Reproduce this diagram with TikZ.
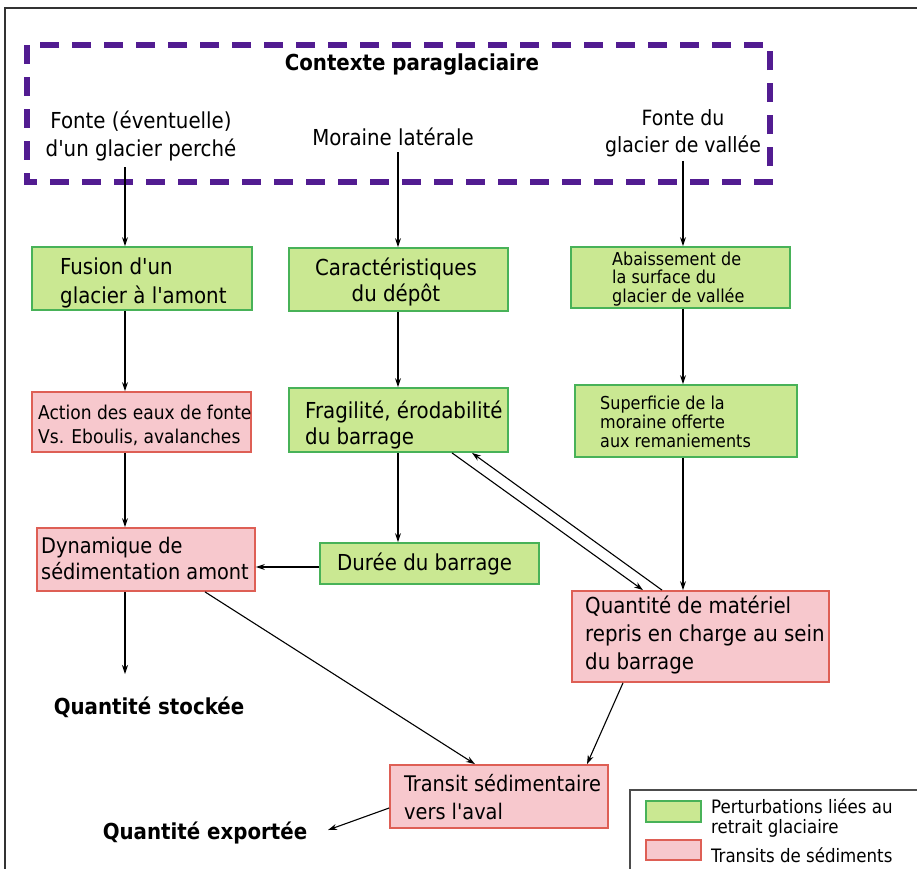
\documentclass[tikz,border=0pt]{standalone}
\usepackage{fontspec}
\setmainfont{DejaVu Sans Condensed}[Ligatures=TeXOff]
\usetikzlibrary{arrows.meta}
\definecolor{gfill}{RGB}{202,232,146}
\definecolor{gline}{RGB}{72,178,88}
\definecolor{rfill}{RGB}{247,200,205}
\definecolor{rline}{RGB}{222,95,85}
\definecolor{purp}{RGB}{82,28,145}
\begin{document}
\begin{tikzpicture}[x=1pt,y=-1pt,
 gbox/.style={draw=gline, fill=gfill, line width=1.8pt, inner sep=0},
 rbox/.style={draw=rline, fill=rfill, line width=1.8pt, inner sep=0},
 txt/.style={inner sep=0, align=left, anchor=west, font=\fontsize{22}{27}\selectfont},
 stxt/.style={inner sep=0, align=left, anchor=west, font=\fontsize{17.8}{18.8}\selectfont},
 btxt/.style={inner sep=0, font=\bfseries\fontsize{22}{26}\selectfont},
 arr/.style={-{Stealth[length=9pt,width=6pt]}, line width=1.1pt},
]
\useasboundingbox (0,0) rectangle (917,868);
\fill[white] (0,0) rectangle (917,868);
% outer frame
\draw[line width=1.5pt, black!80] (5,8) rectangle (940,890);
% dashed context box
\draw[purp, line width=6.5pt, dash pattern=on 19pt off 13pt] (27,45) rectangle (770,182);
\node[btxt] (ctx) at (412,65) {Contexte paraglaciaire};
\node[txt, anchor=center, align=center, font=\fontsize{22}{28}\selectfont] (fonte1) at (141,136) {Fonte (éventuelle)\\d'un glacier perché};
\node[txt, anchor=center] (moraine) at (393,137) {Moraine latérale};
\node[txt, anchor=center, align=center, font=\fontsize{21}{27}\selectfont] (fonte2) at (683,133) {Fonte du\\glacier de vallée};
% boxes
\node[gbox, minimum width=220, minimum height=63] (fusion) at (142,278.5) {};
\node[txt, font=\fontsize{22}{28.5}\selectfont] (tfusion) at (60,283) {Fusion d'un\\glacier à l'amont};
\node[gbox, minimum width=219, minimum height=63] (caract) at (398.5,279.5) {};
\node[txt, anchor=center, align=center, font=\fontsize{22}{26}\selectfont] (tcaract) at (396,282) {Caractéristiques\\du dépôt};
\node[gbox, minimum width=219, minimum height=61] (abaiss) at (680.5,277.5) {};
\node[stxt] (tabaiss) at (612,279) {Abaissement de\\la surface du\\glacier de vallée};
\node[rbox, minimum width=219, minimum height=60] (action) at (141.5,422) {};
\node[stxt, font=\fontsize{19}{24}\selectfont] (taction) at (38,425) {Action des eaux de fonte\\Vs. Eboulis, avalanches};
\node[gbox, minimum width=219, minimum height=64] (fragil) at (398.5,420) {};
\node[txt, font=\fontsize{22}{26}\selectfont] (tfragil) at (305,425) {Fragilité, érodabilité\\du barrage};
\node[gbox, minimum width=222, minimum height=72] (superf) at (686,421) {};
\node[stxt] (tsuperf) at (600,422) {Superficie de la\\moraine offerte\\aux remaniements};
\node[rbox, minimum width=218, minimum height=63] (dynam) at (146,559.5) {};
\node[txt, font=\fontsize{21.5}{26}\selectfont] (tdynam) at (41,558) {Dynamique de\\sédimentation amont};
\node[gbox, minimum width=219, minimum height=41] (duree) at (429.5,563.5) {};
\node[txt] (tduree) at (337,564) {Durée du barrage};
\node[rbox, minimum width=257, minimum height=91] (quant) at (700.5,636.5) {};
\node[txt, font=\fontsize{22}{28}\selectfont] (tquant) at (585,635) {Quantité de matériel\\repris en charge au sein\\du barrage};
\node[rbox, minimum width=218, minimum height=63] (transit) at (499,796.5) {};
\node[txt, font=\fontsize{21.5}{28}\selectfont] (ttransit) at (404,797) {Transit sédimentaire\\vers l'aval};
\node[btxt] (stock) at (149,707) {Quantité stockée};
\node[btxt] (export) at (205,833) {Quantité exportée};
% legend
\draw[line width=1.2pt, black!70, fill=white] (630,790) rectangle (940,890);
\node[gbox, minimum width=55, minimum height=21] (lg) at (673.5,811.5) {};
\node[rbox, minimum width=55, minimum height=20] (lr) at (673.5,850) {};
\node[stxt, font=\fontsize{18.5}{20}\selectfont] (tlg) at (711,818) {Perturbations liées au\\retrait glaciaire};
\node[stxt, font=\fontsize{18.5}{20}\selectfont] (tlr) at (711,855) {Transits de sédiments};
% coordinates for connector columns
\coordinate (c1) at (125,0);
\coordinate (c2) at (398,0);
\coordinate (c3) at (683,0);
\coordinate (c4) at (205,0);
\coordinate (c5) at (475,0);
\coordinate (c6) at (452,0);
\coordinate (c7) at (643,0);
\coordinate (c8) at (662,0);
\coordinate (c9) at (472,0);
\coordinate (c10) at (623,0);
\coordinate (c11) at (587,0);
\coordinate (r1) at (0,567);
\coordinate (r2) at (0,808);
\coordinate (stockend) at (125,674);
\coordinate (exportend) at (328,830);
% connectors
\draw[arr] ([yshift=-6pt]fonte1.south -| c1) -- (fusion.north -| c1);
\draw[arr] ([yshift=-6pt]moraine.south -| c2) -- (caract.north -| c2);
\draw[arr] ([yshift=-4pt]fonte2.south -| c3) -- (abaiss.north -| c3);
\draw[arr] (fusion.south -| c1) -- (action.north -| c1);
\draw[arr] (caract.south -| c2) -- (fragil.north -| c2);
\draw[arr] (abaiss.south -| c3) -- (superf.north -| c3);
\draw[arr] (action.south -| c1) -- (dynam.north -| c1);
\draw[arr] (fragil.south -| c2) -- (duree.north -| c2);
\draw[arr] (superf.south -| c3) -- (quant.north -| c3);
\draw[arr] (duree.west |- r1) -- (dynam.east |- r1);
\draw[arr] (dynam.south -| c1) -- (stockend);
\draw[arr] (dynam.south -| c4) -- (transit.north -| c5);
\draw[arr] (fragil.south -| c6) -- (quant.north -| c7);
\draw[arr] (quant.north -| c8) -- (fragil.south -| c9);
\draw[arr] (quant.south -| c10) -- (transit.north -| c11);
\draw[arr] (transit.west |- r2) -- (exportend);
\end{tikzpicture}
\end{document}
